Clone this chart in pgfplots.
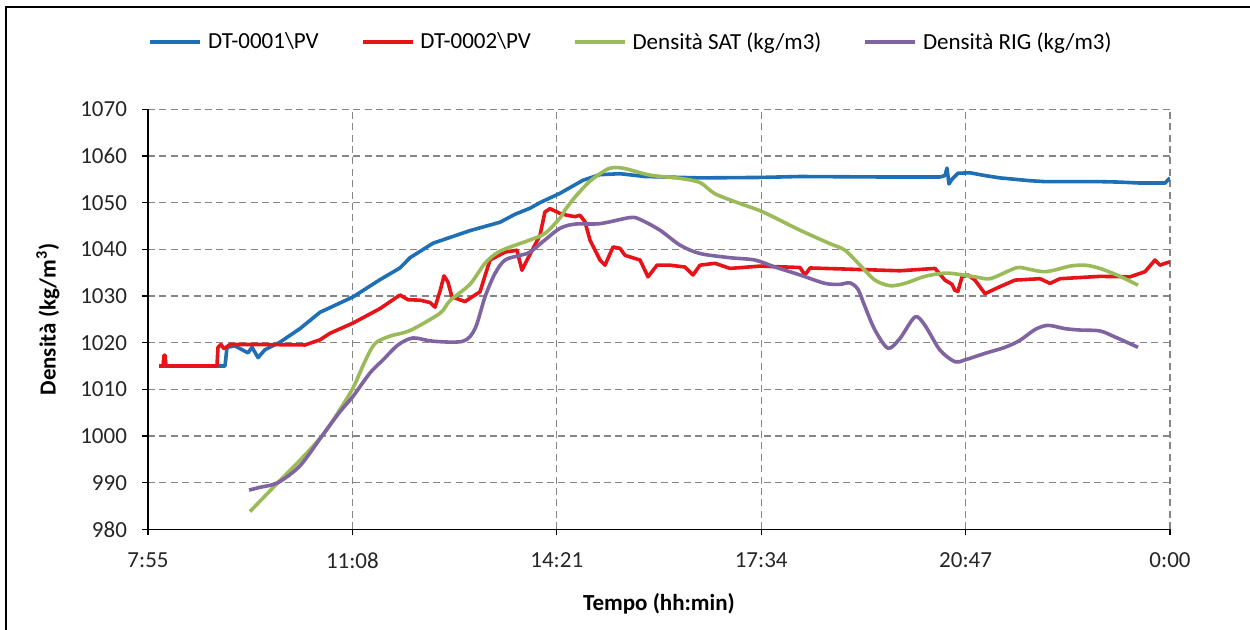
\documentclass[border=0pt]{standalone}
\usepackage{pgfplots}
\pgfplotsset{compat=1.18}
\usetikzlibrary{calc}
\usepackage{fontspec}
\setmainfont{Carlito}
\definecolor{cblue}{RGB}{31,111,180}
\definecolor{cred}{RGB}{230,20,25}
\definecolor{cgreen}{RGB}{155,187,89}
\definecolor{cpurple}{RGB}{128,100,162}
\definecolor{cgrid}{RGB}{134,134,134}
\begin{document}
\begin{tikzpicture}[x=0.5pt,y=0.5pt]
\begin{axis}[
 name=ax,
 scale only axis, width=511pt, height=210pt,
 xmin=475, xmax=1440, ymin=980, ymax=1070,
 xtick={475,668,861,1054,1247,1440},
 xticklabels={7:55,11:08,14:21,17:34,20:47,0:00},
 ytick distance=10,
 axis x line=bottom, axis y line=left,
 axis line style={-, line width=0.75pt, black},
 tick align=outside, major tick length=3pt,
 tick style={black, line width=0.6pt},
 grid=major,
 major grid style={cgrid, line width=0.6pt, dash pattern=on 3.5pt off 2.2pt},
 /pgf/number format/assume math mode=true,
 /pgf/number format/1000 sep={},
 tick label style={font=\fontsize{11.5}{13}\selectfont, text=black!85},
 yticklabel style={xshift=-4pt},
 xticklabel style={yshift=-5pt},
 xlabel={\textbf{Tempo (hh:min)}},
 ylabel={\textbf{Densità (kg/m\textsuperscript{3})}},
 label style={font=\fontsize{11.5}{13}\selectfont},
 xlabel style={at={(axis description cs:0.5,0)}, yshift=-37pt, anchor=center},
 ylabel style={at={(axis description cs:0,0.5)}, yshift=50pt, anchor=center},
 legend columns=4,
 legend style={at={(0.4736,1.160)}, anchor=center, draw=none, fill=none,
   font=\fontsize{11.5}{13}\selectfont,
   /tikz/every even column/.append style={column sep=19pt},
   /tikz/every odd column/.append style={column sep=1pt}},
 legend cell align=left,
 legend image code/.code={\draw[#1] (0pt,0pt) -- (25pt,0pt);},
 every axis plot/.append style={line width=1.8pt, line join=round},
]
\addplot[cblue] table {
485.4 1015.0
547.7 1015.0
549.6 1019.0
557.1 1019.3
569.4 1017.8
573.2 1019.0
578.9 1016.8
585.5 1018.5
599.6 1020.1
618.5 1023.0
637.4 1026.5
668.6 1029.8
694.1 1033.5
712.9 1036.0
722.4 1038.2
744.1 1041.3
779.0 1044.0
807.4 1045.8
821.5 1047.5
835.7 1048.8
845.1 1050.0
864.0 1052.0
885.7 1054.8
901.8 1056.0
920.7 1056.2
944.3 1055.6
996.2 1055.3
1052.9 1055.4
1090.6 1055.6
1166.2 1055.5
1222.8 1055.5
1227.5 1055.8
1229.4 1057.4
1231.3 1054.0
1234.1 1055.0
1239.8 1056.3
1251.1 1056.4
1265.3 1055.8
1279.5 1055.3
1307.8 1054.7
1321.9 1054.5
1373.9 1054.5
1392.8 1054.4
1411.7 1054.2
1435.3 1054.2
1440.0 1055.3
};
\addlegendentry{DT-0001\textbackslash PV}
\addplot[cred] table {
485.4 1015.0
489.2 1015.0
490.1 1017.3
491.1 1017.3
492.0 1015.0
540.1 1015.0
541.1 1019.0
543.9 1019.6
546.8 1018.7
552.4 1019.6
580.8 1019.6
623.2 1019.5
637.4 1020.6
646.8 1022.0
668.6 1024.2
694.1 1027.3
712.9 1030.2
720.5 1029.2
731.8 1029.1
741.3 1028.6
746.0 1027.6
750.7 1031.0
754.5 1034.3
758.2 1033.0
762.0 1029.8
774.3 1028.8
788.5 1030.9
797.9 1037.7
812.1 1039.4
823.4 1039.8
828.1 1035.5
832.9 1037.7
845.1 1043.0
849.8 1048.0
854.6 1048.7
864.0 1047.7
870.6 1047.3
878.2 1047.0
882.9 1047.3
887.6 1045.9
892.3 1042.0
901.8 1037.7
906.5 1036.6
914.1 1040.5
920.7 1040.2
925.4 1038.7
939.6 1037.7
947.1 1034.1
955.6 1036.6
967.9 1036.6
982.0 1036.2
989.6 1034.5
996.2 1036.6
1010.4 1037.0
1024.5 1035.9
1052.9 1036.4
1090.6 1036.1
1095.3 1034.5
1100.1 1036.0
1185.0 1035.4
1218.1 1035.9
1227.5 1033.4
1234.1 1032.5
1236.9 1031.2
1239.8 1031.0
1243.6 1034.1
1249.2 1034.5
1255.8 1033.4
1265.3 1030.5
1279.5 1032.0
1293.6 1033.4
1317.2 1033.7
1326.7 1032.7
1336.1 1033.7
1373.9 1034.2
1402.2 1034.1
1416.4 1035.2
1425.8 1037.7
1430.5 1036.6
1435.3 1037.0
1440.0 1037.3
};
\addlegendentry{DT-0002\textbackslash PV}
\addplot[cgreen, smooth, tension=0.5] table {
571.3 983.8
596.8 989.8
618.5 994.8
639.3 1000.0
654.4 1005.0
668.6 1010.3
679.9 1016.0
689.3 1019.8
703.5 1021.4
722.4 1022.6
750.7 1026.3
760.1 1029.0
779.0 1032.5
793.2 1037.0
807.4 1039.6
835.7 1042.0
849.8 1043.4
864.0 1046.7
868.7 1048.4
878.2 1051.2
892.3 1054.6
906.5 1056.9
914.1 1057.5
925.4 1057.3
949.0 1055.9
977.3 1055.2
996.2 1054.3
1010.4 1051.9
1034.0 1049.8
1055.7 1048.0
1090.6 1044.1
1119.0 1041.2
1133.1 1039.8
1147.3 1036.6
1161.4 1033.4
1175.6 1032.2
1189.8 1032.7
1208.6 1034.2
1229.4 1034.9
1255.8 1034.1
1270.0 1033.7
1288.9 1035.5
1298.3 1036.1
1321.9 1035.2
1345.6 1036.4
1359.7 1036.6
1373.9 1035.9
1392.8 1034.2
1409.8 1032.3
};
\addlegendentry{Densità SAT (kg/m3)}
\addplot[cpurple, smooth, tension=0.5] table {
570.4 988.4
580.8 989.0
597.7 990.0
618.5 993.6
639.3 1000.0
656.3 1005.2
668.6 1008.5
684.6 1013.5
696.9 1016.3
711.1 1019.5
725.2 1021.0
744.1 1020.3
772.4 1020.3
783.8 1023.0
793.2 1029.8
802.6 1034.8
812.1 1037.7
826.2 1038.7
835.7 1039.4
849.8 1042.0
864.0 1044.5
878.2 1045.4
901.8 1045.5
930.1 1046.8
939.6 1046.4
958.4 1044.1
977.3 1040.9
996.2 1039.1
1024.5 1038.2
1048.1 1037.7
1067.0 1036.2
1090.6 1034.5
1114.2 1032.7
1128.4 1032.5
1137.8 1032.8
1145.4 1031.4
1152.0 1027.7
1161.4 1022.7
1173.7 1018.8
1185.0 1020.9
1199.2 1025.5
1208.6 1023.7
1222.8 1018.4
1237.0 1015.9
1246.4 1016.3
1265.3 1017.7
1284.2 1019.0
1298.3 1020.5
1312.5 1022.8
1324.8 1023.7
1340.8 1023.0
1355.0 1022.7
1373.9 1022.5
1388.1 1021.2
1409.8 1019.0
};
\addlegendentry{Densità RIG (kg/m3)}
\end{axis}
\pgfresetboundingbox
\path[use as bounding box] ($(ax.south west)+(-148,-100.7)$) rectangle ($(ax.south west)+(1102,529.3)$);
\draw[line width=1pt] ($(ax.south west)+(-142,-100.7)$) -- ($(ax.south west)+(-142,522.3)$) -- ($(ax.south west)+(1102,522.3)$);
\end{tikzpicture}
\end{document}
